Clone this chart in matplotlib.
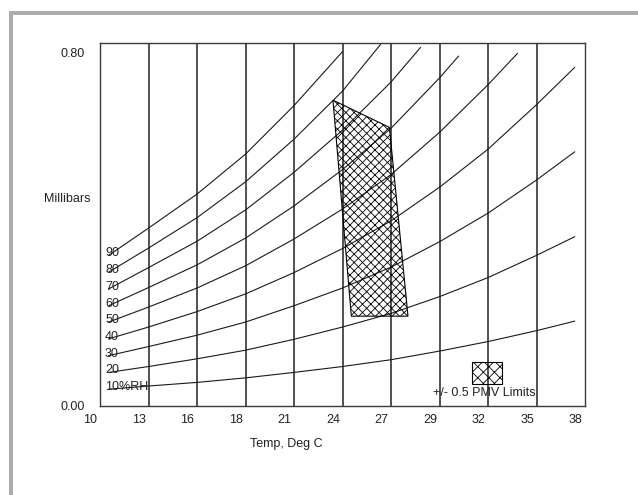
import matplotlib
matplotlib.use("Agg")
import matplotlib.pyplot as plt
import matplotlib.transforms as mtransforms
from matplotlib.patches import Polygon, Rectangle

# x axis: vertical grid positions and their printed labels
x_ticks = [10, 12.8, 15.6, 18.4, 21.2, 24.0, 26.8, 29.6, 32.4, 35.2, 38]
x_labels = ['10', '13', '16', '18', '21', '24', '27', '29', '32', '35', '38']
y_ticks = [0.0, 0.8]
y_labels = ['0.00', '0.80']

temps = [10.5, 12.8, 15.6, 18.4, 21.2, 24.0, 26.8, 29.6, 32.4, 35.2, 37.4]
rh_labels = ['90', '80', '70', '60', '50', '40', '30', '20', '10%RH']
curve_ends = [24.0, 26.2, 28.5, 30.7, 34.1, 37.4, 37.4, 37.4, 37.4]
rh90 = [0.332, 0.392, 0.467, 0.555, 0.662, 0.781]
rh80 = [0.295, 0.348, 0.415, 0.494, 0.588, 0.694, 0.797]
rh70 = [0.258, 0.305, 0.363, 0.432, 0.515, 0.608, 0.714, 0.790]
rh60 = [0.221, 0.261, 0.311, 0.370, 0.441, 0.521, 0.612, 0.723, 0.771]
rh50 = [0.185, 0.218, 0.260, 0.309, 0.368, 0.434, 0.510, 0.603, 0.708, 0.777]
rh40 = [0.148, 0.174, 0.208, 0.247, 0.294, 0.347, 0.408, 0.482, 0.566, 0.664, 0.746]
rh30 = [0.111, 0.131, 0.156, 0.185, 0.221, 0.260, 0.306, 0.362, 0.425, 0.498, 0.560]
rh20 = [0.074, 0.087, 0.104, 0.123, 0.147, 0.174, 0.204, 0.241, 0.283, 0.332, 0.373]
rh10 = [0.037, 0.044, 0.052, 0.062, 0.074, 0.087, 0.102, 0.121, 0.142, 0.166, 0.187]

# comfort zone and the small PMV legend box
zone_t = [23.45, 26.71, 27.78, 24.51]
zone_v = [0.674, 0.614, 0.198, 0.198]
box_t = [31.5, 33.2]
box_v = [0.048, 0.097]
box_text = '+/- 0.5 PMV Limits'

plt.rcParams['font.family'] = ['Liberation Sans', 'DejaVu Sans']
plt.rcParams['hatch.linewidth'] = 0.6

dpi = 100
fig = plt.figure(figsize=(638 / dpi, 495 / dpi), dpi=dpi)
ax = fig.add_axes([100 / 638, 89 / 495, 485 / 638, 363 / 495])

# gray window frame (top and left)
fig.patches.append(Rectangle((9 / 638, 480 / 495), 629 / 638, 4 / 495,
                             transform=fig.transFigure, color='#ababab', lw=0))
fig.patches.append(Rectangle((9 / 638, 0), 4 / 638, 484 / 495,
                             transform=fig.transFigure, color='#ababab', lw=0))

for t in x_ticks[1:-1]:
    ax.axvline(t, color='#333333', lw=1.2, zorder=1)

curves = [rh90, rh80, rh70, rh60, rh50, rh40, rh30, rh20, rh10]
lab_shift = mtransforms.ScaledTranslation(0, 2 / dpi, fig.dpi_scale_trans)
for vals, end, lab in zip(curves, curve_ends, rh_labels):
    xs = [t for t in temps if t < end] + [end]
    ax.plot(xs, vals, color='#1a1a1a', lw=0.8, zorder=2)
    ax.text(10.29, vals[0], lab, fontsize=9, ha='left', va='center',
            color='#222222', transform=ax.transData + lab_shift, zorder=3)

zone = Polygon(list(zip(zone_t, zone_v)), closed=True, facecolor='none',
               edgecolor='black', hatch='xxxx', lw=0.8, zorder=4)
ax.add_patch(zone)
box = Rectangle((box_t[0], box_v[0]), box_t[1] - box_t[0], box_v[1] - box_v[0],
                facecolor='none', edgecolor='black', hatch='xxx', lw=0.8, zorder=4)
ax.add_patch(box)
ax.text(29.22, 0.028, box_text, fontsize=9, ha='left', va='center',
        color='#222222', zorder=5)

ax.set_xlim(10, 38)
ax.set_ylim(0, 0.8)
ax.set_xticks(x_ticks)
ax.set_xticklabels(x_labels)
ax.set_yticks(y_ticks)
ax.set_yticklabels(y_labels)
ax.tick_params(length=0, labelsize=9, colors='#222222')
ax.tick_params(axis='x', pad=6)
ax.tick_params(axis='y', pad=11)

shift_x = mtransforms.ScaledTranslation(-9.5 / dpi, 0, fig.dpi_scale_trans)
for lbl in ax.get_xticklabels():
    lbl.set_transform(lbl.get_transform() + shift_x)
top_lbl = ax.get_yticklabels()[-1]
top_lbl.set_transform(top_lbl.get_transform() +
                      mtransforms.ScaledTranslation(0, -9.5 / dpi, fig.dpi_scale_trans))

for sp in ax.spines.values():
    sp.set_color('#3a3a3a')
    sp.set_linewidth(1.0)

ax.set_ylabel('Millibars', rotation=0, ha='right', va='center', fontsize=9, color='#222222')
ax.yaxis.set_label_coords(-0.019, 0.570)
ax.set_xlabel('Temp, Deg C', ha='center', va='center', fontsize=9, color='#222222')
ax.xaxis.set_label_coords(0.3835, -0.105)

fig.savefig('out.png', dpi=dpi)
